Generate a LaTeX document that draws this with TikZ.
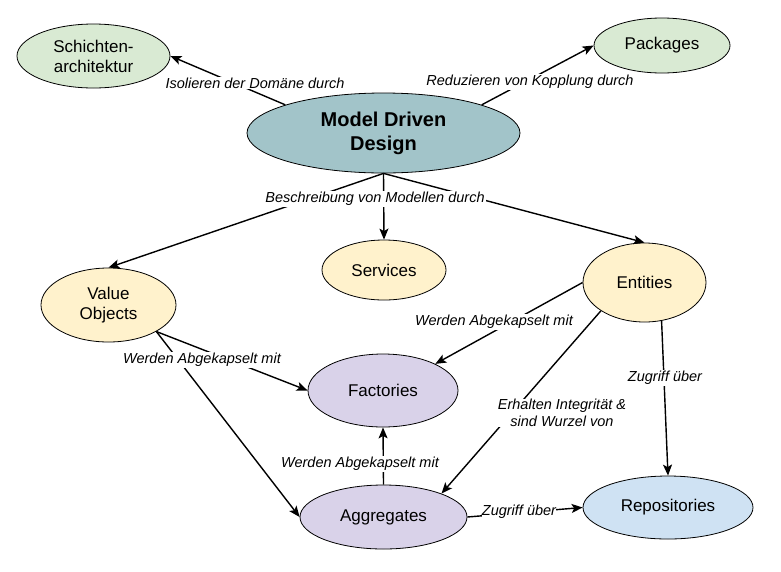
\documentclass[tikz,border=0pt]{standalone}
\usepackage{fontspec}
\setmainfont{Liberation Sans}
\usetikzlibrary{shapes.geometric,arrows.meta}
\definecolor{cgreen}{HTML}{D9EAD3}
\definecolor{cteal}{HTML}{A2C4C9}
\definecolor{cyellow}{HTML}{FFF2CC}
\definecolor{cpurple}{HTML}{D9D2E9}
\definecolor{cblue}{HTML}{CFE2F3}
\tikzset{
  concept/.style={ellipse, draw=black, line width=0.8pt, inner sep=0pt, align=center,
    font=\fontsize{17}{20}\selectfont},
  rel/.style={line width=1.4pt, -{Stealth[length=11pt,width=9pt,inset=2.5pt]}},
  lbl/.style={fill=white, inner sep=1pt, align=center,
    font=\fontsize{14.5}{17.5}\selectfont\itshape},
}
\begin{document}
\begin{tikzpicture}[x=1pt,y=-1pt]
\useasboundingbox (0,0) rectangle (781,571);
% nodes
\node[concept, fill=cgreen, minimum width=153pt, minimum height=64pt] (schicht) at (93.5,56) {Schichten-\\architektur};
\node[concept, fill=cteal, minimum width=273pt, minimum height=80pt, font=\fontsize{20}{24}\selectfont\bfseries] (mdd) at (383.5,133) {Model Driven\\Design};
\node[concept, fill=cgreen, minimum width=136pt, minimum height=55pt] (pack) at (662,45.5) {Packages};
\node[concept, fill=cyellow, minimum width=135pt, minimum height=74pt] (vo) at (108.5,305) {Value\\Objects};
\node[concept, fill=cyellow, minimum width=124pt, minimum height=60pt] (serv) at (384,270) {Services};
\node[concept, fill=cyellow, minimum width=123pt, minimum height=79pt] (ent) at (644.5,282.5) {Entities};
\node[concept, fill=cpurple, minimum width=150pt, minimum height=73pt] (fact) at (383,390.5) {Factories};
\node[concept, fill=cpurple, minimum width=167pt, minimum height=64pt] (aggr) at (383.5,517) {Aggregates};
\node[concept, fill=cblue, minimum width=170pt, minimum height=63pt] (repo) at (668,507.5) {Repositories};
% edges from MDD
\draw[rel] (mdd.164) -- (schicht.east);
\draw[rel] (mdd.16) -- (pack.west);
\draw[rel] (mdd.south) -- (vo.north);
\draw[rel] (mdd.south) -- (ent.north);
\draw[rel] (mdd.south) -- (serv.north);
\node[lbl] (l1) at (255,83) {Isolieren der Domäne durch};
\node[lbl] (l2) at (530,82) {Reduzieren von Kopplung durch};
\node[lbl] (l3) at (375,199) {Beschreibung von Modellen durch};
% value objects
\draw[rel] (vo.-29) -- (fact.west);
\draw[rel] (vo.-29) -- (aggr.west);
\node[lbl] (l4) at (202,360) {Werden Abgekapselt mit};
% entities
\draw[rel] (ent.west) -- (fact.27);
\draw[rel] (ent.-147) -- (aggr.22);
\draw[rel] (ent.-66) -- (repo.north);
\node[lbl] (l5) at (494,322) {Werden Abgekapselt mit};
\node[lbl, inner sep=0pt] (l6) at (562,413) {Erhalten Integrität \&\\sind Wurzel von};
\node[lbl] (l7) at (665,378) {Zugriff über};
% aggregates
\draw[rel] (aggr.north) -- (fact.south);
\draw[rel] (aggr.east) -- (repo.west);
\node[lbl] (l8) at (360,464) {Werden Abgekapselt mit};
\node[lbl, inner sep=0pt] (l9) at (519,512) {Zugriff über};
\end{tikzpicture}
\end{document}
